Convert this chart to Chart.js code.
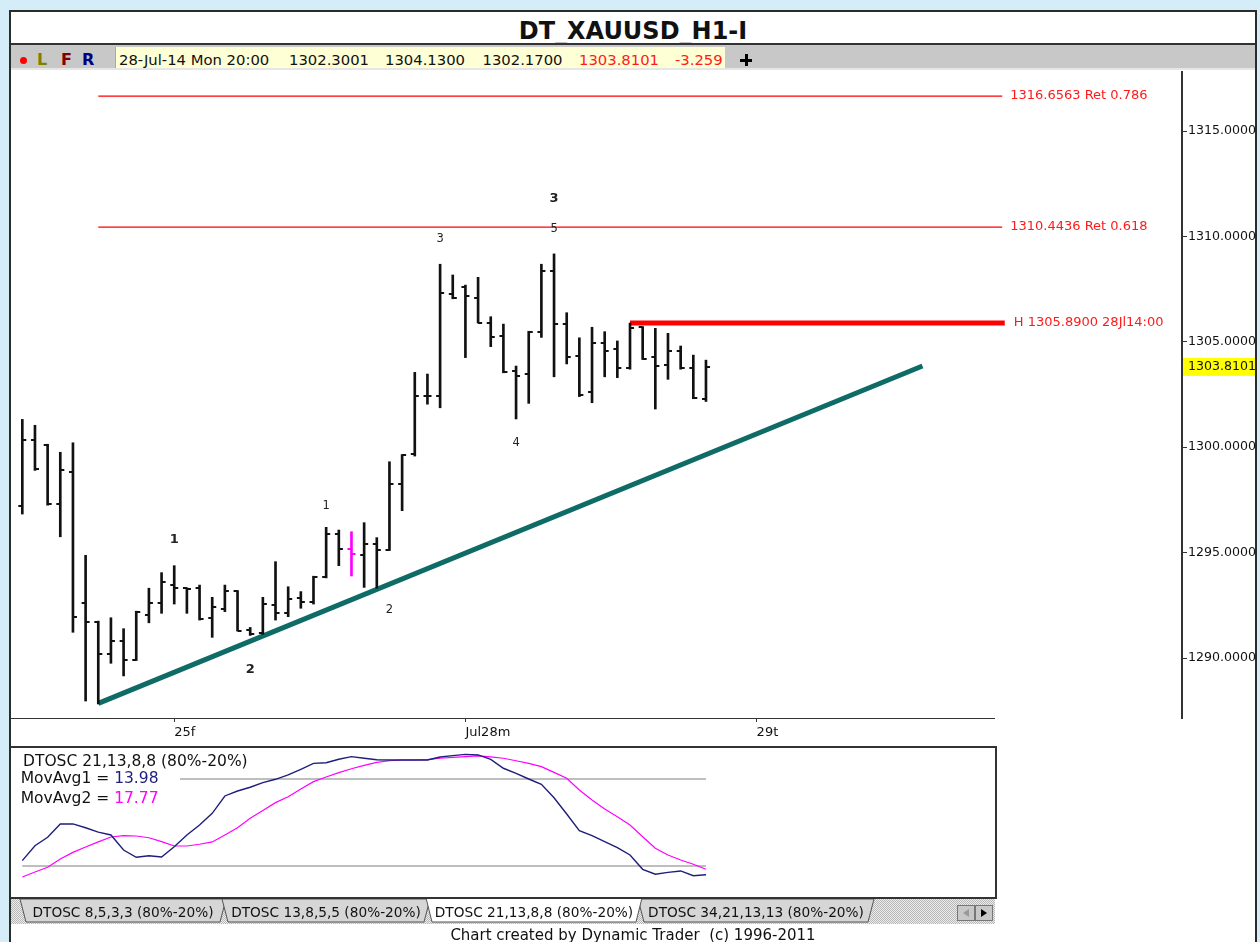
<!DOCTYPE html>
<html>
<head>
<meta charset="utf-8">
<title>DT_XAUUSD_H1-I</title>
<script src="https://cdn.jsdelivr.net/npm/chart.js@4.4.1/dist/chart.umd.min.js"></script>
<style>
  html, body { margin: 0; padding: 0; }
  body { width: 1260px; height: 942px; background: #d4edf9; position: relative; overflow: hidden;
         font-family: 'DejaVu Sans', sans-serif; color: #111; }
  .a { position: absolute; white-space: nowrap; }
  #frame { left: 9px; top: 10px; width: 1244px; height: 940px; background: #fff;
           border: 2px solid #2b2b2b; border-bottom: 0; }
  #title { left: 9px; width: 1248px; top: 19px; text-align: center; font: bold 24px/24px 'DejaVu Sans'; }
  #tbline { left: 11px; top: 43px; width: 1244px; height: 2px; background: #333; }
  #toolbar { left: 11px; top: 45px; width: 1244px; height: 23px; background: #c8c8c8; border-bottom: 2px solid #e6e6e6; }
  #quote { left: 115px; top: 47px; width: 609px; height: 21px; background: #ffffd5; border-left: 1px solid #a8a8a8; }
  .q { top: 52.5px; font-size: 14.8px; line-height: 14.8px; }
  .red { color: #ff1a1a; }
  .lfr { top: 51.5px; font: bold 16px/16px 'DejaVu Sans'; }
  #dot { left: 19.5px; top: 56.5px; width: 7px; height: 7px; border-radius: 50%; background: #f00; }
  .ln { background: #333; }
  #footer { left: 9px; width: 1248px; top: 927.5px; text-align: center; font-size: 15px; line-height: 15px; color: #111; }
</style>
</head>
<body>
<div class="a" id="frame"></div>
<div class="a" id="title">DT_XAUUSD_H1-I</div>
<div class="a" id="tbline"></div>
<div class="a" id="toolbar"></div>
<div class="a" id="dot"></div>
<div class="a lfr" style="left:37px;color:#808000">L</div>
<div class="a lfr" style="left:61px;color:#800000">F</div>
<div class="a lfr" style="left:82px;color:#000080">R</div>
<div class="a" id="quote"></div>
<div class="a q" style="left:119px">28-Jul-14 Mon 20:00</div>
<div class="a q" style="left:289px">1302.3001</div>
<div class="a q" style="left:385px">1304.1300</div>
<div class="a q" style="left:482.5px">1302.1700</div>
<div class="a q red" style="left:579px">1303.8101</div>
<div class="a q red" style="left:675px">-3.259</div>
<div class="a" style="left:740px;top:58.5px;width:12px;height:3px;background:#000"></div>
<div class="a" style="left:744.5px;top:54px;width:3px;height:12px;background:#000"></div>

<canvas class="a" id="main" width="1244" height="677" style="left:11px;top:70px"></canvas>
<div class="a ln" style="left:11px;top:717.5px;width:984px;height:1.5px"></div>

<canvas class="a" id="osc" width="984" height="149" style="left:11px;top:748px"></canvas>
<div class="a ln" style="left:11px;top:746px;width:986px;height:2px"></div>
<div class="a ln" style="left:995px;top:746px;width:2px;height:153px"></div>
<div class="a ln" style="left:11px;top:897px;width:986px;height:2px"></div>

<svg class="a" style="left:11px;top:899px" width="986" height="26">
  <defs>
    <pattern id="hatch" width="2" height="2" patternUnits="userSpaceOnUse">
      <rect width="2" height="2" fill="#ececec"/>
      <rect width="1" height="1" fill="#b8b8b8"/>
      <rect x="1" y="1" width="1" height="1" fill="#b8b8b8"/>
    </pattern>
  </defs>
  <rect width="984" height="25" fill="url(#hatch)"/>
  <g font-family="DejaVu Sans" font-size="13.7" text-anchor="middle" fill="#111" stroke-width="1">
    <polygon points="9,0 215,0 209,23 15,23" fill="#d6d6d6" stroke="#555"/>
    <text x="112" y="17.5">DTOSC 8,5,3,3 (80%-20%)</text>
    <polygon points="211,0 419,0 413,23 217,23" fill="#d6d6d6" stroke="#555"/>
    <text x="315" y="17.5">DTOSC 13,8,5,5 (80%-20%)</text>
    <polygon points="627,0 863,0 857,23 633,23" fill="#d6d6d6" stroke="#555"/>
    <text x="745" y="17.5">DTOSC 34,21,13,13 (80%-20%)</text>
    <polygon points="415,-1 631,-1 625,23 421,23" fill="#fff" stroke="#555"/>
    <text x="523" y="17.5">DTOSC 21,13,8,8 (80%-20%)</text>
  </g>
  <rect x="946.5" y="6.5" width="17" height="15" fill="#c8c8c8" stroke="#777"/>
  <rect x="964.5" y="6.5" width="17" height="15" fill="#c8c8c8" stroke="#777"/>
  <polygon points="958,10 958,18 952,14" fill="#999"/>
  <polygon points="970,10 970,18 976,14" fill="#000"/>
</svg>
<div class="a" id="footer">Chart created by Dynamic Trader&nbsp;&nbsp;(c) 1996-2011</div>

<script>
// ---- hourly bars, 28-Jul-14 20:00 is the last one ----
const OPEN  = [1297.22, 1300.34, 1300.10, 1297.29, 1298.81, 1292.59, 1291.70, 1290.19, 1290.82, 1289.91,
               1292.04, 1292.59, 1293.46, 1293.30, 1293.31, 1291.90, 1292.31, 1293.18, 1291.33, 1291.17,
               1292.51, 1292.12, 1292.83, 1292.67, 1293.83, 1295.88, 1295.17, 1294.89, 1295.39, 1295.12,
               1298.24, 1299.66, 1302.44, 1302.44, 1307.25, 1307.61, 1307.09, 1305.91, 1305.29, 1303.61,
               1303.46, 1305.45, 1308.36, 1305.84, 1304.33, 1302.63, 1304.96, 1304.64, 1303.74, 1305.69,
               1304.26, 1303.90, 1304.58, 1303.74, 1302.3001];
const HIGH  = [1301.32, 1301.04, 1300.14, 1299.76, 1300.21, 1294.87, 1291.75, 1291.91, 1291.39, 1292.22,
               1293.31, 1294.05, 1294.38, 1293.33, 1293.46, 1292.88, 1293.46, 1293.20, 1291.45, 1292.88,
               1294.57, 1293.38, 1293.15, 1293.88, 1296.20, 1296.07, 1295.99, 1296.42, 1295.71, 1299.31,
               1299.65, 1303.55, 1303.47, 1308.68, 1308.17, 1307.69, 1308.06, 1306.19, 1305.84, 1303.85,
               1305.50, 1308.68, 1309.17, 1306.38, 1305.19, 1305.69, 1305.48, 1305.04, 1305.89, 1305.72,
               1305.64, 1305.40, 1304.80, 1304.37, 1304.13];
const LOW   = [1296.83, 1298.90, 1297.25, 1295.75, 1291.22, 1287.96, 1287.82, 1289.75, 1289.15, 1289.88,
               1291.67, 1292.12, 1292.56, 1292.12, 1291.80, 1290.98, 1292.20, 1291.28, 1291.07, 1291.12,
               1291.80, 1291.96, 1292.36, 1292.56, 1293.80, 1294.38, 1293.89, 1293.35, 1293.31, 1295.10,
               1296.99, 1299.58, 1302.04, 1301.87, 1307.04, 1304.25, 1305.89, 1304.77, 1303.53, 1301.34,
               1302.08, 1305.21, 1303.34, 1303.95, 1302.40, 1302.11, 1303.34, 1303.30, 1303.70, 1304.16,
               1301.81, 1303.22, 1303.70, 1302.30, 1302.17];
const CLOSE = [1300.34, 1298.95, 1297.29, 1298.92, 1291.96, 1291.72, 1290.19, 1290.82, 1289.91, 1292.20,
               1292.59, 1293.61, 1293.31, 1293.25, 1291.84, 1292.41, 1293.18, 1291.30, 1291.14, 1292.56,
               1292.12, 1292.80, 1292.67, 1293.86, 1295.88, 1295.17, 1294.92, 1295.39, 1295.12, 1298.24,
               1299.63, 1302.44, 1302.42, 1307.33, 1307.06, 1307.17, 1305.91, 1305.24, 1303.58, 1303.39,
               1305.48, 1308.36, 1305.83, 1304.29, 1302.48, 1304.96, 1304.58, 1303.74, 1305.67, 1304.18,
               1303.85, 1304.58, 1303.74, 1302.32, 1303.8101];
const MARKED_BAR = 26;   // the magenta bar

// ---- DTOSC 21,13,8,8 ----
const DTOSC_FAST = [23.7, 34, 39.8, 49, 49, 46.4, 43.4, 41.4, 31, 26, 27.1, 26.2, 33.3, 41.4, 48.3, 56.3, 68.3, 71.7,
                    74.3, 77.5, 79.8, 82.8, 86.7, 90.8, 91.2, 93.6, 95.4, 94.3, 93.3, 93.1, 93.1, 93.1, 93.1, 95.2,
                    96.1, 97, 96.6, 93.5, 87.4, 83.9, 80, 76.3, 67.1, 55.9, 44.4, 40.9, 36.8, 32.6, 27.6, 17.7,
                    14.3, 15.6, 16.6, 13.3, 13.98];
const DTOSC_SLOW = [12.4, 15.9, 19.1, 24.8, 29.4, 33.1, 36.6, 40, 40.9, 40.7, 39.5, 36.8, 33.8, 33.8, 35, 36.6, 41.4,
                    46.4, 52.9, 58.2, 63.7, 67.8, 73.1, 78.2, 81.4, 84.4, 87.1, 89.4, 91.5, 92.6, 93.1, 93.1, 93.3,
                    94.3, 94.9, 95.4, 95.9, 95.2, 94.3, 92.6, 90.8, 88.5, 84.6, 80.5, 72.4, 65.5, 59.3, 54, 48.3,
                    40.2, 32.2, 27.6, 24.1, 21.2, 17.77];
const OSC_BANDS = [80, 20];

// ---- axes ----
const X_TICK_BARS = [12, 35, 58];
const X_TICK_LABELS = ['25f', 'Jul28m', '29t'];
const Y_TICKS = [1290, 1295, 1300, 1305, 1310, 1315];

// ---- drawings ----
const FIB_LEVELS = [1316.6563, 1310.4436];
const FIB_RATIOS = ['0.786', '0.618'];
const FIB_FROM = 6, LINE_TO = 77.4;
const SWING_HIGH = 1305.89, SWING_BAR = 48, SWING_TO = 77.6, SWING_TEXT = 'H 1305.8900 28Jl14:00';
const TREND_X = [6, 71.1];
const TREND_Y = [1287.85, 1303.85];
const WAVE_TEXT  = ['1', '2', '1', '2', '3', '4', '5', '3'];
const WAVE_BAR   = [12, 18, 24, 29, 33, 39, 42, 42];
const WAVE_PRICE = [1295.60, 1289.43, 1297.21, 1292.28, 1309.88, 1300.20, 1310.35, 1311.77];
const WAVE_BOLD  = [true, true, false, false, false, false, false, true];

// scale windows (bar units / price units visible in each pane)
const X_MIN = -0.893, X_MAX_MAIN = 91.6, X_MAX_OSC = 76.83;
const Y_MIN = 1287.154, Y_MAX = 1317.799;

Chart.defaults.font.family = "'DejaVu Sans', sans-serif";
Chart.defaults.color = '#111';

const BAR_COLOR = '#111', MARK_COLOR = '#ff00ff', NAVY = '#1e1e7c';

function tickImage(color, side) {
  const c = document.createElement('canvas');
  c.width = 12; c.height = 2;
  const g = c.getContext('2d');
  g.fillStyle = color;
  g.fillRect(side === 'open' ? 2 : 6, 0, 4, 2);
  return c;
}
const OPEN_IMG = [tickImage(BAR_COLOR, 'open'), tickImage(MARK_COLOR, 'open')];
const CLOSE_IMG = [tickImage(BAR_COLOR, 'close'), tickImage(MARK_COLOR, 'close')];
const bars = OPEN.map((_, i) => i);

const flat = (y, from, to) => [{ x: from, y }, { x: to, y }];

const annotate = {
  id: 'annotate',
  afterDatasetsDraw(chart) {
    const { ctx, scales: { x, y } } = chart;
    ctx.save();
    ctx.textAlign = 'center';
    ctx.textBaseline = 'middle';
    ctx.fillStyle = '#222';
    WAVE_TEXT.forEach((t, i) => {
      ctx.font = WAVE_BOLD[i] ? "bold 13px 'DejaVu Sans'" : "11.5px 'DejaVu Sans'";
      ctx.fillText(t, x.getPixelForValue(WAVE_BAR[i]), y.getPixelForValue(WAVE_PRICE[i]));
    });
    ctx.textAlign = 'left';
    ctx.fillStyle = '#ff1a1a';
    ctx.font = "13px 'DejaVu Sans'";
    FIB_LEVELS.forEach((lv, i) => {
      ctx.fillText(`${lv.toFixed(4)} Ret ${FIB_RATIOS[i]}`, x.getPixelForValue(LINE_TO) + 8, y.getPixelForValue(lv));
    });
    ctx.fillText(SWING_TEXT, x.getPixelForValue(SWING_TO) + 9, y.getPixelForValue(SWING_HIGH));
    ctx.restore();
  },
  afterDraw(chart) {
    const { ctx, chartArea, scales: { y } } = chart;
    const last = CLOSE[CLOSE.length - 1];
    const py = y.getPixelForValue(last);
    ctx.save();
    ctx.fillStyle = '#ffff00';
    ctx.fillRect(chartArea.right + 1, py - 9, chart.width - chartArea.right - 1, 18);
    ctx.fillStyle = '#111';
    ctx.font = "12.6px 'DejaVu Sans'";
    ctx.textBaseline = 'middle';
    ctx.fillText(last.toFixed(4), chartArea.right + 6, py);
    ctx.restore();
  }
};

new Chart(document.getElementById('main'), {
  type: 'scatter',
  data: {
    datasets: [
      {
        type: 'bar',
        data: bars.map(i => ({ x: i, y: [LOW[i], HIGH[i]] })),
        backgroundColor: bars.map(i => i === MARKED_BAR ? MARK_COLOR : BAR_COLOR),
        barThickness: 2,
        borderWidth: 0,
      },
      {
        type: 'scatter',
        data: bars.map(i => ({ x: i, y: OPEN[i] })),
        pointStyle: c => OPEN_IMG[c.dataIndex === MARKED_BAR ? 1 : 0],
        pointRadius: 3,
      },
      {
        type: 'scatter',
        data: bars.map(i => ({ x: i, y: CLOSE[i] })),
        pointStyle: c => CLOSE_IMG[c.dataIndex === MARKED_BAR ? 1 : 0],
        pointRadius: 3,
      },
      {
        type: 'line',
        data: flat(SWING_HIGH, SWING_BAR, SWING_TO),
        borderColor: '#ff0000', borderWidth: 5, pointRadius: 0,
      },
      {
        type: 'line',
        data: TREND_X.map((v, i) => ({ x: v, y: TREND_Y[i] })),
        borderColor: '#0e6b66', borderWidth: 5, pointRadius: 0,
      },
      ...FIB_LEVELS.map(lv => ({
        type: 'line',
        data: flat(lv, FIB_FROM, LINE_TO),
        borderColor: '#ff0000', borderWidth: 1.2, pointRadius: 0,
      })),
    ]
  },
  options: {
    responsive: false,
    animation: false,
    events: [],
    layout: { autoPadding: false, padding: { top: 2, left: 0, right: 0, bottom: 0 } },
    plugins: { legend: { display: false }, tooltip: { enabled: false } },
    scales: {
      x: {
        type: 'linear', min: X_MIN, max: X_MAX_MAIN, offset: false,
        grid: { offset: false, drawOnChartArea: false, tickLength: 4, color: '#333' },
        border: { display: false },
        ticks: {
          align: 'start', padding: 3, autoSkip: false, maxRotation: 0,
          font: { size: 13 }, color: '#111',
          callback: (v, i) => X_TICK_LABELS[i],
        },
        afterBuildTicks: s => { s.ticks = X_TICK_BARS.map(v => ({ value: v })); },
        afterFit: s => { s.height = 29; s.paddingLeft = 0; s.paddingRight = 0; },
      },
      y: {
        position: 'right', min: Y_MIN, max: Y_MAX,
        grid: { drawOnChartArea: false, tickLength: 5, color: '#333' },
        border: { display: true, color: '#333', width: 2 },
        ticks: { padding: 1, font: { size: 12.6 }, color: '#111', callback: v => v.toFixed(4) },
        afterBuildTicks: s => { s.ticks = Y_TICKS.map(v => ({ value: v })); },
        afterFit: s => { s.width = 73; s.paddingTop = 0; s.paddingBottom = 0; },
      }
    }
  },
  plugins: [annotate]
});

// oscillator pane
const oscLegend = {
  id: 'oscLegend',
  afterDatasetsDraw(chart) {
    const { ctx } = chart;
    ctx.save();
    ctx.fillStyle = '#fff';
    ctx.fillRect(0, 22, 169, 38);
    ctx.font = "15.5px 'DejaVu Sans'";
    ctx.textBaseline = 'alphabetic';
    ctx.fillStyle = '#111';
    ctx.fillText('DTOSC 21,13,8,8 (80%-20%)', 12, 17.7);
    const rows = [['MovAvg1 = ', DTOSC_FAST, NAVY, 35.3], ['MovAvg2 = ', DTOSC_SLOW, MARK_COLOR, 55.3]];
    rows.forEach(([label, arr, color, by]) => {
      ctx.fillStyle = '#111';
      ctx.fillText(label, 9.7, by);
      const w = ctx.measureText(label).width;
      ctx.fillStyle = color;
      ctx.fillText(arr[arr.length - 1].toFixed(2), 9.7 + w, by);
    });
    ctx.restore();
  }
};

new Chart(document.getElementById('osc'), {
  type: 'line',
  data: {
    datasets: [
      { data: DTOSC_FAST.map((v, i) => ({ x: i, y: v })), borderColor: NAVY, borderWidth: 1.4 },
      { data: DTOSC_SLOW.map((v, i) => ({ x: i, y: v })), borderColor: MARK_COLOR, borderWidth: 1.2 },
      ...OSC_BANDS.map(b => ({ data: flat(b, 0, bars.length - 1), borderColor: '#a8a8a8', borderWidth: 1.5 })),
    ]
  },
  options: {
    responsive: false,
    animation: false,
    events: [],
    layout: { autoPadding: false, padding: { top: 2, bottom: 2, left: 0, right: 0 } },
    elements: { point: { radius: 0 }, line: { tension: 0 } },
    plugins: { legend: { display: false }, tooltip: { enabled: false } },
    scales: {
      x: { type: 'linear', display: false, min: X_MIN, max: X_MAX_OSC },
      y: { display: false, min: 0, max: 100 },
    }
  },
  plugins: [oscLegend]
});
</script>
</body>
</html>
